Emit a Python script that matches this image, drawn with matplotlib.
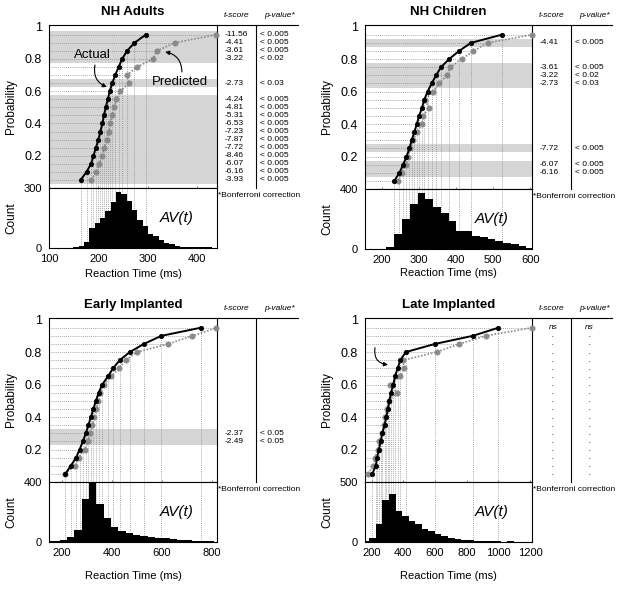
import matplotlib.pyplot as plt
import numpy as np

plt.rcParams['font.family'] = ['Liberation Sans', 'DejaVu Sans']

W, H = 624, 589

# quantile levels of the CDFs
quantiles = [0.05, 0.10, 0.15, 0.20, 0.25, 0.30, 0.35, 0.40, 0.45, 0.50,
             0.55, 0.60, 0.65, 0.70, 0.75, 0.80, 0.85, 0.90, 0.95]

# NH Adults
adults_actual = [164, 176, 185, 190, 195, 200, 204, 208, 211, 215,
                 219, 223, 228, 234, 241, 248, 258, 273, 296]
adults_pred = [186, 195, 202, 207, 212, 217, 221, 224, 228, 232,
               236, 244, 262, 258, 278, 311, 318, 355, 438]
adults_counts = [3, 8, 30, 98, 123, 148, 185, 232, 280, 268, 236, 190, 140,
                 108, 72, 60, 40, 24, 18, 9, 6, 5, 3, 5, 4, 3]
adults_bin_start, adults_bin_width = 149, 10.8
adults_sig_q = [0.95, 0.90, 0.85, 0.80, 0.65, 0.55, 0.50, 0.45, 0.40, 0.35,
                0.30, 0.25, 0.20, 0.15, 0.10, 0.05]
adults_t = ['-11.56', '-4.41', '-3.61', '-3.22', '-2.73', '-4.24', '-4.81',
            '-5.31', '-6.53', '-7.23', '-7.87', '-7.72', '-8.46', '-6.07',
            '-6.16', '-3.93']
adults_p = ['< 0.005', '< 0.005', '< 0.005', '< 0.02', '< 0.03'] + ['< 0.005'] * 11

# NH Children
children_actual = [233, 247, 257, 266, 274, 280, 287, 294, 300, 308,
                   314, 323, 334, 346, 359, 381, 408, 440, 523]
children_pred = [244, 253, 264, 271, 276, 284, 294, 308, 311, 327,
                 316, 338, 354, 376, 384, 415, 447, 485, 604]
children_counts = [2, 2, 3, 13, 97, 198, 299, 373, 333, 283, 243, 187, 119,
                   119, 88, 80, 65, 55, 40, 32, 22, 10]
children_bin_start, children_bin_width = 149, 21
children_sig_q = [0.90, 0.75, 0.70, 0.65, 0.25, 0.15, 0.10]
children_t = ['-4.41', '-3.61', '-3.22', '-2.73', '-7.72', '-6.07', '-6.16']
children_p = ['< 0.005', '< 0.005', '< 0.02', '< 0.03', '< 0.005', '< 0.005', '< 0.005']

# Early Implanted
early_actual = [215, 237, 258, 272, 285, 297, 307, 317, 327, 337,
                348, 362, 385, 405, 432, 472, 528, 598, 755]
early_pred = [213, 254, 268, 292, 306, 312, 323, 330, 339, 347,
              352, 369, 399, 429, 456, 501, 625, 722, 818]
early_counts = [5, 6, 14, 36, 80, 288, 392, 254, 157, 101, 74, 58, 45, 38,
                34, 29, 24, 18, 14, 11, 9, 7, 5, 3]
early_bin_start, early_bin_width = 134, 29.25
early_sig_q = [0.30, 0.25]
early_t = ['-2.37', '-2.49']
early_p = ['< 0.05', '< 0.05']

# Late Implanted
late_actual = [204, 226, 234, 246, 257, 267, 282, 292, 303, 311,
               322, 337, 347, 364, 381, 415, 598, 838, 1000]
late_pred = [179, 210, 222, 237, 249, 265, 276, 286, 296, 307,
             360, 318, 380, 402, 398, 610, 753, 921, 1210]
late_counts = [8, 30, 150, 354, 402, 261, 219, 177, 149, 112, 93, 70, 51, 37,
               28, 20, 14, 11, 8, 6, 5, 3, 5, 2, 2]
late_bin_start, late_bin_width = 144, 41.4
late_t = ['ns'] + ['.'] * 18
late_p = ['ns'] + ['.'] * 18


def px_rect(l, t, r, b):
    return [l / W, 1 - b / H, (r - l) / W, (b - t) / H]


def draw_panel(fig, box, title, actual, pred, counts, bin_start, bin_width,
               sig_q, t_vals, p_vals, xlim, xticks, count_top, xlabel_y,
               ns_table=False):
    l, t, r, m, b = box
    ax = fig.add_axes(px_rect(l, t, r, m))
    axh = fig.add_axes(px_rect(l, m, r, b), sharex=ax)

    # significant quantiles shaded
    for q in sig_q:
        ax.axhspan(q - 0.025, q + 0.025, color='#d5d5d5', lw=0, zorder=0)

    far = np.maximum(actual, pred)
    ax.hlines(quantiles, xlim[0], far, colors='#8c8c8c',
              linestyles=(0, (1, 1.5)), linewidth=0.6, zorder=1)
    ax.vlines(actual, 0, quantiles, colors='#8c8c8c',
              linestyles=(0, (1, 1.5)), linewidth=0.6, zorder=1)

    ax.plot(pred, quantiles, color='#8a8a8a', ls=(0, (1, 1)), lw=1.2,
            marker='o', ms=3.8, mew=0.5, zorder=3, clip_on=False)
    ax.plot(actual, quantiles, color='black', lw=1.4, marker='o', ms=3.2,
            mew=0.5, zorder=4, clip_on=False)

    ax.set_xlim(xlim)
    ax.set_ylim(0, 1.01)
    ax.set_yticks([0.2, 0.4, 0.6, 0.8, 1.0])
    ax.set_yticklabels(['0.2', '0.4', '0.6', '0.8', '1'])
    ax.tick_params(axis='y', length=0, pad=5, labelsize=9)
    ax.tick_params(axis='x', direction='inout', length=3, width=0.6,
                   color='#666666', labelbottom=False)
    ax.set_ylabel('Probability', fontsize=8.5)
    ax.yaxis.set_label_coords(-0.19, 0.5)
    ax.text(0.5, 1.08, title, transform=ax.transAxes, ha='center',
            va='center', fontsize=9.5, fontweight='bold')

    # table of t-scores / p-values
    ax.text(1.115, 1.06, 't-score', transform=ax.transAxes, ha='center',
            va='center', fontsize=6, style='italic')
    ax.text(1.375, 1.06, 'p-value*', transform=ax.transAxes, ha='center',
            va='center', fontsize=6, style='italic')
    ax.plot([1, 1.48], [1, 1], transform=ax.transAxes, color='black',
            lw=0.8, clip_on=False)
    ax.plot([1.232, 1.232], [0, 1], transform=ax.transAxes, color='black',
            lw=0.8, clip_on=False)
    tr = ax.get_yaxis_transform()
    if ns_table:
        rows = sorted(quantiles, reverse=True)
        for q, tv, pv in zip(rows, t_vals, p_vals):
            ax.text(1.125, q, tv, transform=tr, ha='center', va='center',
                    fontsize=6, style='italic')
            ax.text(1.345, q, pv, transform=tr, ha='center', va='center',
                    fontsize=6, style='italic')
    else:
        for q, tv, pv in zip(sig_q, t_vals, p_vals):
            ax.text(1.045, q, tv, transform=tr, ha='left', va='center', fontsize=6)
            ax.text(1.255, q, pv, transform=tr, ha='left', va='center', fontsize=6)

    for s in ax.spines.values():
        s.set_linewidth(0.8)

    # histogram of RTs
    edges = bin_start + bin_width * np.arange(len(counts))
    axh.bar(edges, counts, width=bin_width, align='edge', color='black',
            lw=0, zorder=2)
    axh.vlines(actual, 0, count_top, colors='#8c8c8c',
               linestyles=(0, (1, 1.5)), linewidth=0.6, zorder=1)
    axh.set_ylim(0, count_top)
    axh.set_yticks([0, count_top])
    axh.set_xticks(xticks)
    axh.tick_params(axis='y', length=0, pad=5, labelsize=8)
    axh.tick_params(axis='x', length=0, pad=4, labelsize=8)
    axh.set_xlim(xlim)
    axh.set_ylabel('Count', fontsize=8.5)
    axh.yaxis.set_label_coords(-0.19, 0.5)
    axh.set_xlabel('Reaction Time (ms)', fontsize=8)
    axh.xaxis.set_label_coords(0.5, xlabel_y)
    axh.text(0.76, 0.5, 'AV(t)', transform=axh.transAxes, ha='center',
             va='center', fontsize=11, style='italic')
    axh.text(1.008, 0.87, '*Bonferroni correction', transform=axh.transAxes,
             ha='left', va='center', fontsize=6)
    for s in axh.spines.values():
        s.set_linewidth(0.8)
    return ax, axh


fig = plt.figure(figsize=(W / 100, H / 100), dpi=100)

ax1, _ = draw_panel(fig, (49, 25, 217, 188, 248), 'NH Adults',
                    adults_actual, adults_pred, adults_counts,
                    adults_bin_start, adults_bin_width,
                    adults_sig_q, adults_t, adults_p,
                    (100, 440), [100, 200, 300, 400], 300, -0.35)
draw_panel(fig, (365, 25, 532, 189, 249), 'NH Children',
           children_actual, children_pred, children_counts,
           children_bin_start, children_bin_width,
           children_sig_q, children_t, children_p,
           (154, 605), [200, 300, 400, 500, 600], 400, -0.32)
draw_panel(fig, (49, 318, 217, 482, 542), 'Early Implanted',
           early_actual, early_pred, early_counts,
           early_bin_start, early_bin_width,
           early_sig_q, early_t, early_p,
           (150, 820), [200, 400, 600, 800], 400, -0.48)
ax4, _ = draw_panel(fig, (365, 318, 532, 482, 542), 'Late Implanted',
                    late_actual, late_pred, late_counts,
                    late_bin_start, late_bin_width,
                    [], late_t, late_p,
                    (158, 1212), [200, 400, 600, 800, 1000, 1200], 500, -0.48,
                    ns_table=True)

# labels with curved arrows
arrow = dict(arrowstyle='-|>', color='black', lw=0.8, mutation_scale=6,
             shrinkA=0, shrinkB=0)
ax1.text(187, 0.824, 'Actual', ha='center', va='center', fontsize=9.5, zorder=5)
ax1.annotate('', xy=(217, 0.626), xytext=(193, 0.762),
             arrowprops=dict(connectionstyle='arc3,rad=0.4', **arrow))
ax1.text(365, 0.657, 'Predicted', ha='center', va='center', fontsize=9.5, zorder=5)
ax1.annotate('', xy=(335, 0.843), xytext=(369, 0.719),
             arrowprops=dict(connectionstyle='arc3,rad=0.4', **arrow))
ax4.annotate('', xy=(303, 0.722), xytext=(221, 0.827),
             arrowprops=dict(connectionstyle='arc3,rad=0.5', **arrow))

fig.savefig('out.png', dpi=100)
